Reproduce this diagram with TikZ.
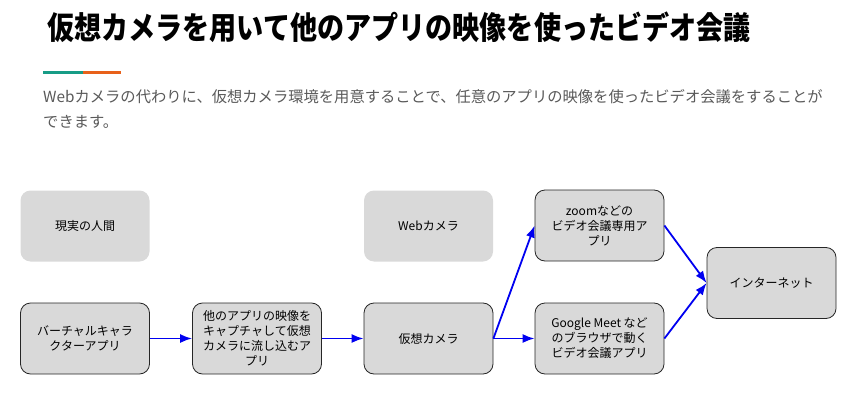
\documentclass[tikz,border=0pt]{standalone}
\usepackage{fontspec}
\setmainfont{Noto Sans CJK JP}
\newfontfamily\titlefont{Noto Sans CJK JP}[FakeStretch=0.86]
\usetikzlibrary{arrows.meta}
\definecolor{boxgray}{HTML}{D9D9D9}
\definecolor{subgray}{HTML}{595959}
\definecolor{teal1}{HTML}{179C86}
\definecolor{orange1}{HTML}{E8611A}
\definecolor{arrowblue}{HTML}{0000F0}
\begin{document}
\begin{tikzpicture}[x=1pt,y=-1pt,
  box/.style={fill=boxgray, rounded corners=10pt, minimum width=129pt, minimum height=71pt,
    align=center, font=\fontsize{12pt}{15pt}\selectfont, inner sep=2pt},
  framed/.style={box, draw=black!85, line width=0.8pt},
  flow/.style={draw=arrowblue, line width=1.8pt, -{Latex[length=12pt,width=9pt]}}]
\useasboundingbox (0,0) rectangle (856,409);
\node[anchor=west, inner sep=0pt, font=\titlefont\fontsize{31.5pt}{33pt}\selectfont\bfseries] (title) at (47,27) {仮想カメラを用いて他のアプリの映像を使ったビデオ会議};
\fill[teal1] (43,71) rectangle (83,74.5);
\fill[orange1] (83,71) rectangle (121,74.5);
\node[anchor=west, inner sep=0pt, text=subgray, font=\fontsize{15.3pt}{18pt}\selectfont] (sub1) at (43,97) {Webカメラの代わりに、仮想カメラ環境を用意することで、任意のアプリの映像を使ったビデオ会議をすることが};
\node[anchor=west, inner sep=0pt, text=subgray, font=\fontsize{15.3pt}{18pt}\selectfont] (sub2) at (43,122) {できます。};

\node[box] (human) at (85,226) {現実の人間};
\node[box] (webcam) at (428.5,226) {Webカメラ};
\node[framed] (vchar) at (85,338.5) {バーチャルキャラ\\クターアプリ};
\node[framed] (cap) at (257,338.5) {他のアプリの映像を\\キャプチャして仮想\\カメラに流し込むア\\プリ};
\node[framed] (vc) at (428.5,338.5) {仮想カメラ};
\node[framed] (zoom) at (599.5,225.5) {zoomなどの\\ビデオ会議専用ア\\プリ};
\node[framed] (gm) at (599.5,338.5) {Google Meet など\\のブラウザで動く\\ビデオ会議アプリ};
\node[framed] (net) at (771.5,283) {インターネット};

\draw[flow] (vchar) -- (cap);
\draw[flow] (cap) -- (vc);
\draw[flow] (vc.east) -- (zoom.west);
\draw[flow] (vc.east) -- (gm.west);
\draw[flow] (zoom.east) -- (net.west);
\draw[flow] (gm.east) -- (net.west);
\end{tikzpicture}
\end{document}
